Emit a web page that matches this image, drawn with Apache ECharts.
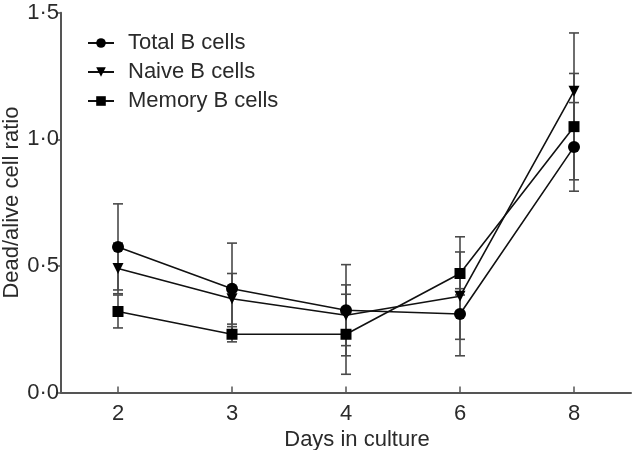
<!DOCTYPE html>
<html>
<head>
<meta charset="utf-8">
<script src="https://cdn.jsdelivr.net/npm/echarts@6/dist/echarts.min.js"></script>
<style>html,body{margin:0;padding:0;background:#fff}#c{width:632px;height:450px}</style>
</head>
<body>
<div id="c"></div>
<script>
var days = ['2', '3', '4', '6', '8'];
var totalMean = [0.575, 0.41, 0.325, 0.31, 0.97];
var totalSD = [0.17, 0.18, 0.18, 0.10, 0.175];
var naiveMean = [0.49, 0.37, 0.305, 0.38, 1.19];
var naiveSD = [0.10, 0.10, 0.12, 0.235, 0.23];
var memoryMean = [0.32, 0.23, 0.23, 0.47, 1.05];
var memorySD = [0.065, 0.03, 0.158, 0.085, 0.21];
var seriesNames = ['Total B cells', 'Naive B cells', 'Memory B cells'];
var yTicks = [0, 0.5, 1.0, 1.5];

var FONT = 'Liberation Sans';
var TXT = '#2a2a2a';

function errData(mean, sd) {
  return mean.map(function (m, i) { return [i, m - sd[i], m + sd[i]]; });
}
function errSeries(mean, sd) {
  return {
    type: 'custom',
    silent: true,
    z: 1,
    renderItem: function (params, api) {
      var x = api.value(0);
      var lo = api.coord([x, api.value(1)]);
      var hi = api.coord([x, api.value(2)]);
      var w = 5;
      var style = { stroke: '#4a4a4a', lineWidth: 1.6 };
      return {
        type: 'group',
        children: [
          { type: 'line', shape: { x1: lo[0], y1: lo[1], x2: hi[0], y2: hi[1] }, style: style },
          { type: 'line', shape: { x1: lo[0] - w, y1: lo[1], x2: lo[0] + w, y2: lo[1] }, style: style },
          { type: 'line', shape: { x1: hi[0] - w, y1: hi[1], x2: hi[0] + w, y2: hi[1] }, style: style }
        ]
      };
    },
    data: errData(mean, sd)
  };
}
function lineSeries(name, data, symbol, size, rot) {
  return {
    name: name,
    type: 'line',
    data: data,
    symbol: symbol,
    symbolSize: size,
    symbolRotate: rot,
    z: 3,
    lineStyle: { color: '#111', width: 1.6 },
    itemStyle: { color: '#000', borderWidth: 0 }
  };
}

var chart = echarts.init(document.getElementById('c'), null, { renderer: 'canvas' });
chart.setOption({
  animation: false,
  backgroundColor: '#fff',
  textStyle: { fontFamily: FONT },
  grid: { left: 61, right: 1, top: 12.7, bottom: 57.5, containLabel: false, outerBoundsMode: 'none' },
  legend: {
    orient: 'vertical',
    left: 82,
    top: 27,
    itemWidth: 26,
    itemHeight: 12,
    itemGap: 7,
    data: seriesNames,
    textStyle: { fontFamily: FONT, fontSize: 22, color: TXT, padding: [0, 0, 0, 9] }
  },
  xAxis: {
    type: 'category',
    data: days,
    boundaryGap: true,
    name: 'Days in culture',
    nameLocation: 'middle',
    nameGap: 36,
    nameMoveOverlap: false,
    nameTextStyle: { fontFamily: FONT, fontSize: 22, color: TXT, padding: [0, 0, 0, 22] },
    axisLine: { lineStyle: { color: '#555', width: 2 } },
    axisTick: { show: true, inside: true, alignWithLabel: true, length: 6, lineStyle: { color: '#555', width: 1.5 } },
    axisLabel: { fontFamily: FONT, fontSize: 22, color: TXT, margin: 10 },
    splitLine: { show: false }
  },
  yAxis: {
    type: 'value',
    min: yTicks[0],
    max: yTicks[yTicks.length - 1],
    interval: 0.5,
    name: 'Dead/alive cell ratio',
    nameLocation: 'middle',
    nameGap: 38,
    nameMoveOverlap: false,
    nameTextStyle: { fontFamily: FONT, fontSize: 22, color: TXT },
    axisLine: { show: true, lineStyle: { color: '#555', width: 2 } },
    axisTick: { show: true, length: 5, lineStyle: { color: '#555', width: 1.5 } },
    axisLabel: {
      fontFamily: FONT, fontSize: 22, color: TXT, margin: 2,
      formatter: function (v) { return v.toFixed(1).replace('.', '\u00b7'); }
    },
    splitLine: { show: false }
  },
  series: [
    errSeries(totalMean, totalSD),
    errSeries(naiveMean, naiveSD),
    errSeries(memoryMean, memorySD),
    lineSeries(seriesNames[0], totalMean, 'circle', 12, 0),
    lineSeries(seriesNames[1], naiveMean, 'triangle', 11, 180),
    lineSeries(seriesNames[2], memoryMean, 'rect', 11, 0)
  ]
});
</script>
</body>
</html>
